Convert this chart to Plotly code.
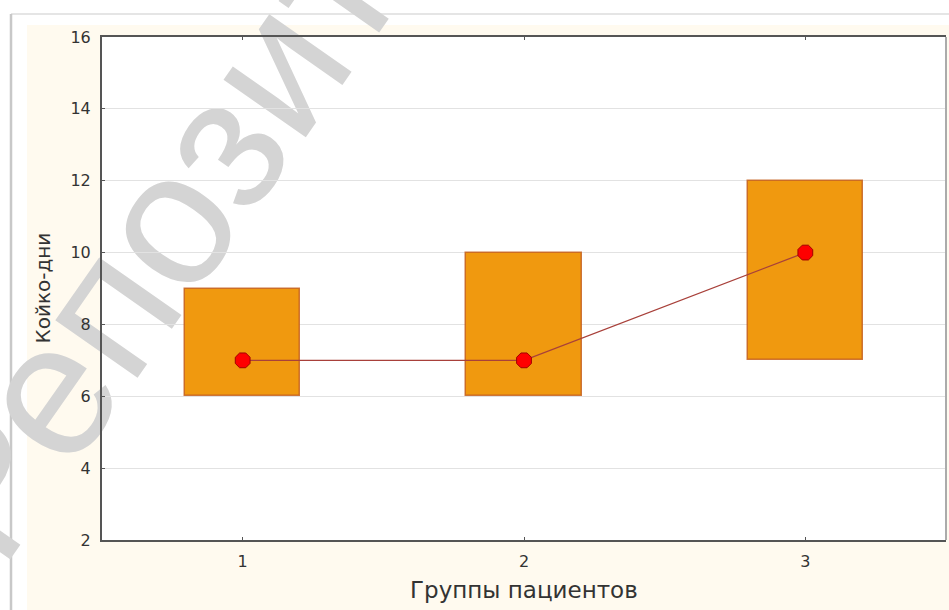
import plotly.graph_objects as go

# Patient groups and bed-day statistics
groups = [1, 2, 3]
lower = [6, 6, 7]        # lower edge of each box
upper = [9, 10, 12]      # upper edge of each box
medians = [7, 7, 10]     # central value marked in each box

y_ticks = [2, 4, 6, 8, 10, 12, 14, 16]
x_title = "Группы пациентов"
y_title = "Койко-дни"
watermark = "Репозиторий ВГМУ"

W, H = 949, 610
ML, MR, MT, MB = 102, 3, 37, 70
PW, PH = W - ML - MR, H - MT - MB


def px_x(px):
    return (px - ML) / PW


def px_y(py):
    return (H - MB - py) / PH


fig = go.Figure()

fig.add_trace(go.Bar(
    x=groups,
    y=[u - l for u, l in zip(upper, lower)],
    base=lower,
    width=0.41,
    marker=dict(color="#F0990F", line=dict(color="rgba(196,96,30,0.85)", width=1.5)),
    hoverinfo="skip",
    showlegend=False,
))

fig.add_trace(go.Scatter(
    x=groups,
    y=medians,
    mode="lines+markers",
    line=dict(color="#a8403a", width=1.3),
    marker=dict(symbol="octagon", size=16, color="#ff0000",
                line=dict(color="#a00000", width=1)),
    showlegend=False,
))

wm_cx, wm_cy = 417, -168

shapes = [
    # cream panel behind the chart
    dict(type="rect", xref="paper", yref="paper", layer="below",
         x0=px_x(27), x1=px_x(W + 5), y0=px_y(H + 5), y1=px_y(25),
         fillcolor="#fffaef", line=dict(width=0)),
    # outer frame lines
    dict(type="line", xref="paper", yref="paper", layer="below",
         x0=px_x(11), x1=px_x(W + 5), y0=px_y(14), y1=px_y(14),
         line=dict(color="#dcdcdc", width=1.5)),
    dict(type="line", xref="paper", yref="paper", layer="below",
         x0=px_x(11), x1=px_x(11), y0=px_y(H + 5), y1=px_y(14),
         line=dict(color="#c8c8c8", width=2.5)),
    # white plotting area
    dict(type="rect", xref="paper", yref="paper", layer="below",
         x0=0, x1=1, y0=0, y1=1, fillcolor="white", line=dict(width=0)),
    # diagonal watermark
    dict(type="rect", xref="paper", yref="paper", layer="below",
         x0=px_x(wm_cx - 1), x1=px_x(wm_cx + 1),
         y0=px_y(wm_cy + 1), y1=px_y(wm_cy - 1),
         line=dict(width=0), fillcolor="rgba(0,0,0,0)",
         label=dict(text=watermark, textangle=-55, textposition="middle center",
                    font=dict(family="Arial", size=190, color="#d4d4d4"))),
    # right border of the plotting area
    dict(type="line", xref="paper", yref="paper", layer="above",
         x0=1, x1=1, y0=0, y1=1, line=dict(color="#ababab", width=2)),
]

annotations = [
    dict(text=x_title, xref="paper", yref="paper", x=0.5, y=px_y(590),
         xanchor="center", yanchor="middle", showarrow=False,
         font=dict(family="DejaVu Sans", size=23, color="#333333")),
    dict(text=y_title, xref="paper", yref="paper", x=px_x(42), y=0.5,
         xanchor="center", yanchor="middle", showarrow=False, textangle=-90,
         font=dict(family="DejaVu Sans", size=20, color="#333333")),
]

fig.update_layout(
    width=W, height=H,
    margin=dict(l=ML, r=MR, t=MT, b=MB, pad=0),
    paper_bgcolor="white",
    plot_bgcolor="rgba(0,0,0,0)",
    shapes=shapes,
    annotations=annotations,
    bargap=0,
    xaxis=dict(
        range=[0.5, 3.5], tickvals=groups, ticktext=[str(g) for g in groups],
        showgrid=False, zeroline=False,
        showline=True, linecolor="#555555", linewidth=2, mirror="ticks",
        ticks="inside", ticklen=3, tickcolor="#555555",
        tickfont=dict(family="DejaVu Sans", size=16, color="#333333"),
        ticklabelstandoff=6,
    ),
    yaxis=dict(
        range=[2, 16], tickvals=y_ticks,
        showgrid=True, gridcolor="#e2e2e2", gridwidth=1, zeroline=False,
        showline=True, linecolor="#555555", linewidth=2,
        ticks="inside", ticklen=3, tickcolor="#555555",
        tickfont=dict(family="DejaVu Sans", size=16, color="#333333"),
        ticklabelstandoff=6,
    ),
)

fig.write_html("out.html")
